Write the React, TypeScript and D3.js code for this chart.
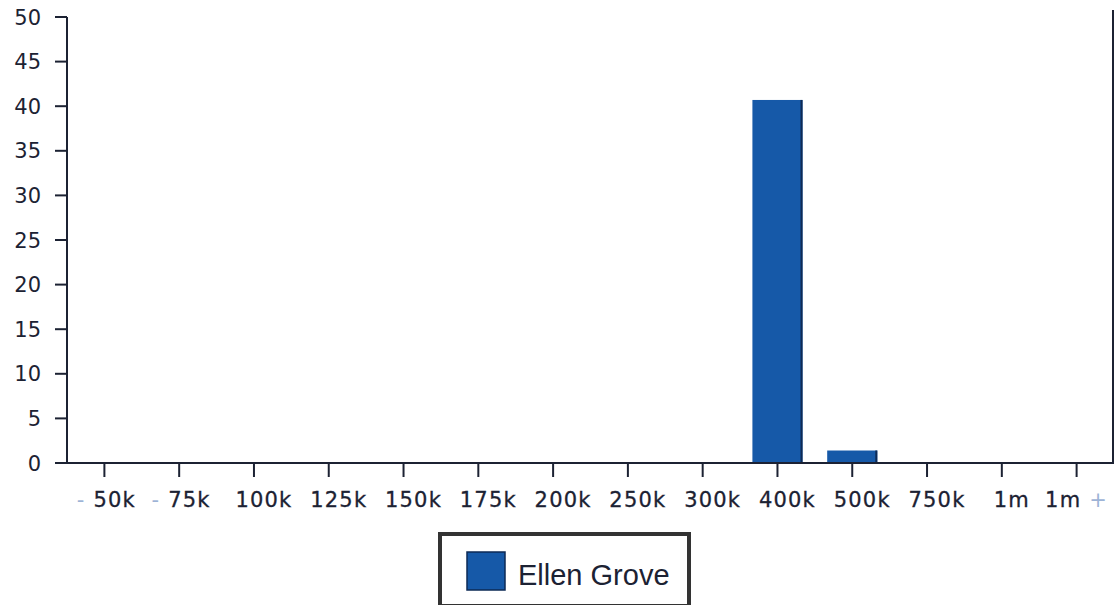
import React from 'react';
import * as d3 from 'd3';

// price bands and the counts per band
const categories = ['50k', '75k', '100k', '125k', '150k', '175k', '200k', '250k', '300k', '400k', '500k', '750k', '1m', '1m +'];
const prefixes = ['- ', '- ', '', '', '', '', '', '', '', '', '', '', '', ''];
const values = [0, 0, 0, 0, 0, 0, 0, 0, 0, 40.7, 1.4, 0, 0, 0];
const yTicks = [0, 5, 10, 15, 20, 25, 30, 35, 40, 45, 50];
const seriesName = 'Ellen Grove';

const W = 1116;
const H = 605;
const left = 67;
const right = 1114;
const top = 17;
const bottom = 463;
const ink = '#1c2233';
const faint = '#9db3d6';
const barColor = '#1659a8';

export default function App() {
  const x = d3.scaleBand<string>().domain(categories).range([left, right]).paddingInner(0.33).paddingOuter(0.165);
  const y = d3.scaleLinear().domain([0, 50]).range([bottom, top]);

  return (
    <svg width={W} height={H} style={{ position: 'absolute', left: 0, top: 0, background: '#fff' }}
      fontFamily="DejaVu Sans, Verdana, sans-serif">
      {/* bars */}
      {categories.map((c, i) => values[i] > 0 && (
        <g key={c}>
          <rect x={x(c)} y={y(values[i])} width={x.bandwidth()} height={bottom - y(values[i])} fill={barColor} />
          <rect x={(x(c) as number) + x.bandwidth() - 2} y={y(values[i])} width={2} height={bottom - y(values[i])} fill="#0d2a55" />
        </g>
      ))}

      {/* y axis */}
      <line x1={left} x2={left} y1={top} y2={bottom} stroke={ink} strokeWidth={2} />
      {yTicks.map(t => (
        <g key={t}>
          <line x1={55} x2={left} y1={y(t)} y2={y(t)} stroke={ink} strokeWidth={2} />
          <text x={41} y={y(t)} dy="0.36em" textAnchor="end" fontSize={21} fill={ink}>{t}</text>
        </g>
      ))}

      {/* x axis + right border */}
      <line x1={55} x2={right} y1={bottom} y2={bottom} stroke={ink} strokeWidth={2} />
      <line x1={right - 1} x2={right - 1} y1={10} y2={bottom} stroke={ink} strokeWidth={2} />
      {categories.map((c, i) => {
        const cx = (x(c) as number) + x.bandwidth() / 2;
        const last = i === categories.length - 1;
        const main = last ? c.replace(' +', '') : c;
        return (
          <g key={c}>
            <line x1={cx} x2={cx} y1={bottom} y2={bottom + 14} stroke={ink} strokeWidth={2} />
            <text x={last ? right - 6 : cx + (prefixes[i] ? 2 : 10)} y={507} textAnchor={last ? 'end' : 'middle'}
              fontSize={21} letterSpacing={1.2} fill={ink} stroke={ink} strokeWidth={0.3}>
              {prefixes[i] && <tspan fill={faint} stroke="none">{prefixes[i]}</tspan>}
              {main}
              {last && <tspan fill={faint} stroke="none">{' +'}</tspan>}
            </text>
          </g>
        );
      })}

      {/* legend */}
      <rect x={440} y={534} width={249} height={72} fill="#fff" stroke="#333" strokeWidth={4} />
      <rect x={467} y={552} width={38} height={38} fill={barColor} stroke="#0d2a55" strokeWidth={1.5} />
      <text x={518} y={585} fontSize={29} fontFamily="Liberation Sans, Arial, sans-serif" fill={ink}>{seriesName}</text>
    </svg>
  );
}
